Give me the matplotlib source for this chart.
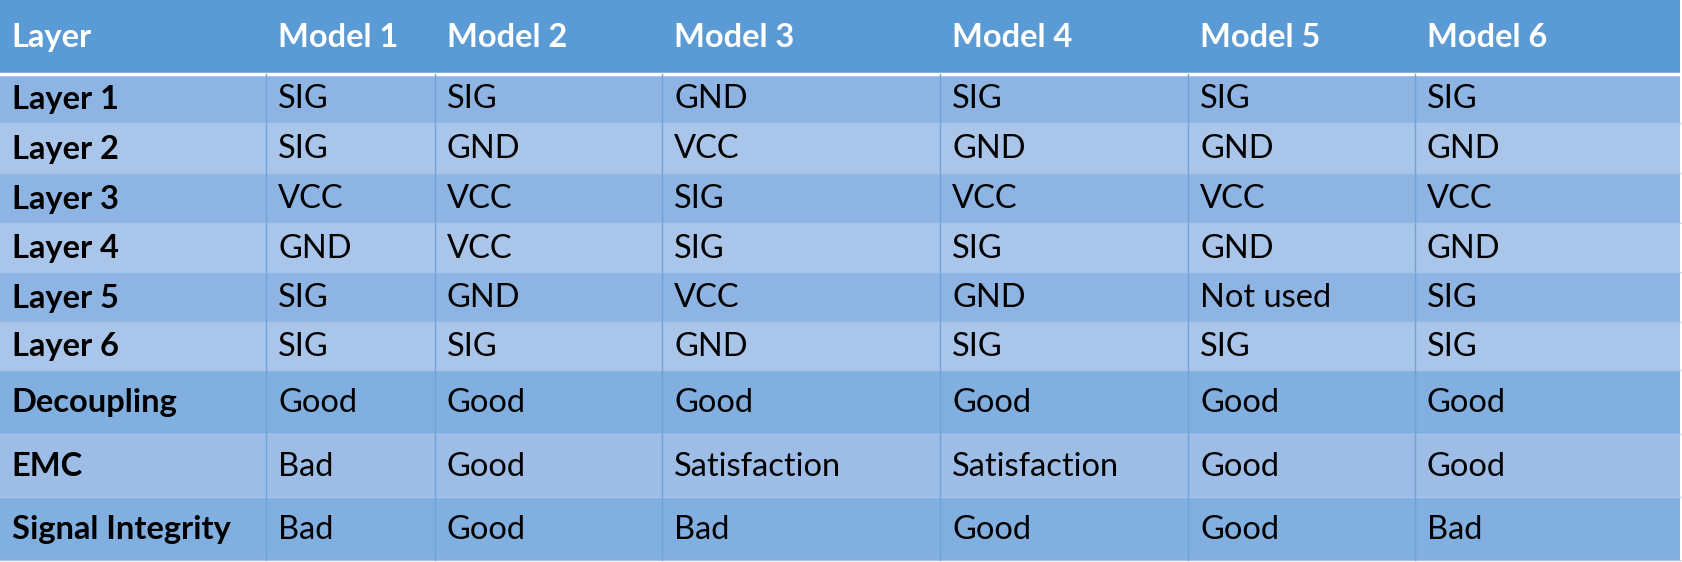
import matplotlib.pyplot as plt
from matplotlib.patches import Rectangle

header = ["Layer", "Model 1", "Model 2", "Model 3", "Model 4", "Model 5", "Model 6"]
row_labels = ["Layer 1", "Layer 2", "Layer 3", "Layer 4", "Layer 5", "Layer 6",
              "Decoupling", "EMC", "Signal Integrity"]
model_1 = ["SIG", "SIG", "VCC", "GND", "SIG", "SIG", "Good", "Bad", "Bad"]
model_2 = ["SIG", "GND", "VCC", "VCC", "GND", "SIG", "Good", "Good", "Good"]
model_3 = ["GND", "VCC", "SIG", "SIG", "VCC", "GND", "Good", "Satisfaction", "Bad"]
model_4 = ["SIG", "GND", "VCC", "SIG", "GND", "SIG", "Good", "Satisfaction", "Good"]
model_5 = ["SIG", "GND", "VCC", "GND", "Not used", "SIG", "Good", "Good", "Good"]
model_6 = ["SIG", "GND", "VCC", "GND", "SIG", "SIG", "Good", "Good", "Bad"]
columns = [row_labels, model_1, model_2, model_3, model_4, model_5, model_6]

# layout in reference pixel units (1567 x 512 basis)
W, H = 1567, 512
col_edges = [0, 248, 405, 617, 876, 1107, 1318, 1565]
row_edges = [0, 67, 112, 158, 203, 248, 293, 337, 395, 453, 510]
row_colors = ["#8db4e2", "#a9c5e9", "#8db4e2", "#a9c5e9", "#8db4e2", "#a9c5e9",
              "#80afe0", "#9dbde6", "#80afe0"]

fig = plt.figure(figsize=(16.82, 5.62), dpi=100)
ax = fig.add_axes([0, 0, 1, 1])
ax.set_xlim(0, W)
ax.set_ylim(H, 0)
ax.axis("off")
fig.patch.set_facecolor("white")

font = "Lato"
fs = 23.5
# header
ax.add_patch(Rectangle((0, 0), col_edges[-1], row_edges[1], color="#5b9bd5", lw=0))
for j, txt in enumerate(header):
    ax.text(col_edges[j] + 11, row_edges[1] / 2 + 1, txt, color="white", fontsize=fs,
            fontweight="bold", va="center", ha="left", family=font)
ax.plot([0, col_edges[-1]], [row_edges[1], row_edges[1]], color="white", lw=2.5)

# body
for i in range(len(row_labels)):
    y0, y1 = row_edges[i + 1], row_edges[i + 2]
    ax.add_patch(Rectangle((0, y0), col_edges[-1], y1 - y0, color=row_colors[i], lw=0))
    for j, col in enumerate(columns):
        ax.text(col_edges[j] + 11, (y0 + y1) / 2 + 1, col[i], color="black", fontsize=fs,
                fontweight="bold" if j == 0 else "normal", va="center", ha="left",
                family=font)

for y in row_edges[2:]:
    ax.plot([0, col_edges[-1]], [y, y], color="#a6c6ec", lw=1)
for x in col_edges[1:-1]:
    ax.plot([x, x], [row_edges[1], row_edges[-1]], color="#6fa3d9", lw=1)

fig.savefig("out.png", dpi=100)
